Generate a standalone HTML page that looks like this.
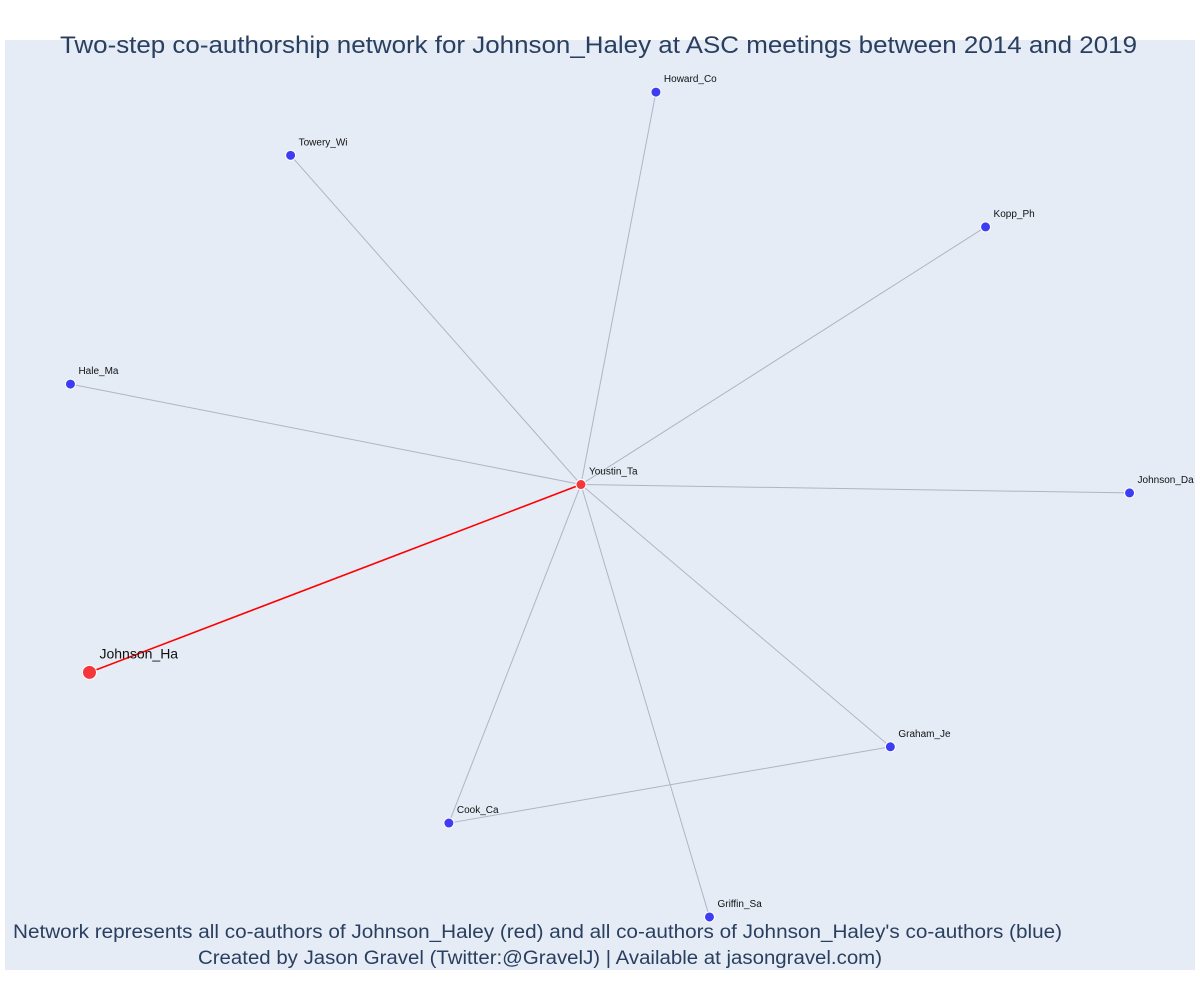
<!DOCTYPE html>
<html><head><meta charset="utf-8">
<style>
html,body{margin:0;padding:0;background:#fff;width:1200px;height:1000px;overflow:hidden}
svg text{font-family:"Liberation Sans",sans-serif}
</style></head>
<body>
<svg id="chart" width="1200" height="1000" xmlns="http://www.w3.org/2000/svg">
<rect x="5" y="40" width="1190" height="930" fill="#e5ecf6"/>
<g id="edges"></g>
<g id="nodes"></g>
<text x="60" y="53" textLength="1077" lengthAdjust="spacingAndGlyphs" font-size="24" fill="#2a3f5f">Two-step co-authorship network for Johnson_Haley at ASC meetings between 2014 and 2019</text>
<text x="13" y="938" textLength="1049" lengthAdjust="spacingAndGlyphs" font-size="19" fill="#2a3f5f">Network represents all co-authors of Johnson_Haley (red) and all co-authors of Johnson_Haley's co-authors (blue)</text>
<text x="198" y="964" textLength="684" lengthAdjust="spacingAndGlyphs" font-size="19" fill="#2a3f5f">Created by Jason Gravel (Twitter:@GravelJ) | Available at jasongravel.com)</text>
</svg>
<script>
const names = ["Youstin_Ta","Johnson_Ha","Howard_Co","Towery_Wi","Kopp_Ph","Hale_Ma","Johnson_Da","Graham_Je","Cook_Ca","Griffin_Sa"];
const nodeX = [48.4, 7.1, 54.7, 24.0, 82.4, 5.5, 94.5, 74.4, 37.3, 59.2];
const nodeY = [52.2, 32.0, 94.4, 87.6, 79.9, 63.0, 51.3, 24.0, 15.8, 5.7];
const nodeGroup = ["co","ego","two","two","two","two","two","two","two","two"];
const edgeFrom = [0,0,0,0,0,0,0,0,0,7];
const edgeTo   = [1,2,3,4,5,6,7,8,9,8];

function xScale(v){ return 5 + v*11.9; }
function yScale(v){ return 40 + (100 - v)*9.3; }
const NS = "http://www.w3.org/2000/svg";
const eg = document.getElementById('edges');
const ng = document.getElementById('nodes');

for (let i=0;i<edgeFrom.length;i++){
  const a=edgeFrom[i], b=edgeTo[i];
  const l=document.createElementNS(NS,'line');
  l.setAttribute('x1',xScale(nodeX[a])); l.setAttribute('y1',yScale(nodeY[a]));
  l.setAttribute('x2',xScale(nodeX[b])); l.setAttribute('y2',yScale(nodeY[b]));
  const red = (nodeGroup[a]==="ego"||nodeGroup[b]==="ego");
  l.setAttribute('stroke', red ? '#ff0000' : '#b0b4c4');
  l.setAttribute('stroke-width', red ? 1.6 : 1);
  
  
  eg.appendChild(l);
}
for (let i=0;i<names.length;i++){
  const cx=xScale(nodeX[i]), cy=yScale(nodeY[i]);
  const big = nodeGroup[i]==="ego";
  const c=document.createElementNS(NS,'circle');
  c.setAttribute('cx',cx); c.setAttribute('cy',cy);
  c.setAttribute('r', big ? 7 : 5);
  c.setAttribute('fill', nodeGroup[i]==="two" ? '#3d3df5' : '#f5363c');
  c.setAttribute('stroke','#ffffff'); c.setAttribute('stroke-width',1);
  
  
  ng.appendChild(c);
  const t=document.createElementNS(NS,'text');
  t.setAttribute('x', cx + (big?10:8));
  t.setAttribute('y', cy - (big?14:10));
  t.setAttribute('font-size', big ? 14 : 10);
  t.setAttribute('fill', '#111');
  t.textContent = names[i];
  
  
  ng.appendChild(t);
}
</script>
</body></html>
